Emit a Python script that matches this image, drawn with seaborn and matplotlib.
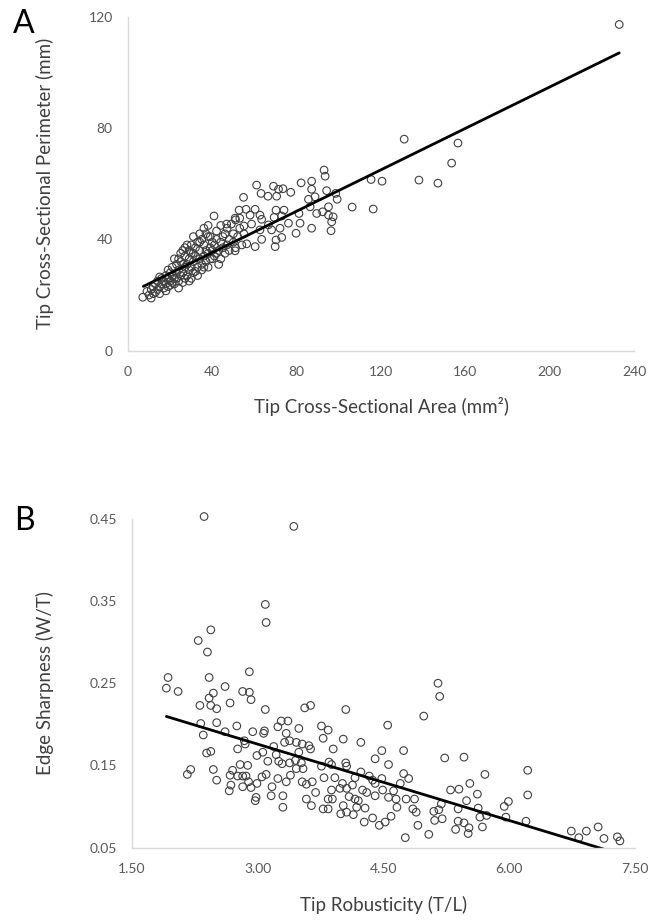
import matplotlib
matplotlib.use("Agg")
import matplotlib.pyplot as plt
import seaborn as sns

# Panel A: tip cross-sectional area (mm2) vs perimeter (mm)
area_a = [
    7, 9, 10, 11, 11, 12, 12, 13, 13, 14, 14, 15, 15, 16, 16, 17, 17, 18, 18, 19, 19, 20, 20, 20,
    21, 21, 22, 22, 23, 23, 24, 24, 25, 25, 26, 26, 27, 27, 28, 28, 29, 29, 30, 30, 30, 22, 25, 28, 26,
    15, 18, 21, 23, 24, 27, 19, 26, 33, 37, 39, 42, 44, 29, 31, 34, 36, 38, 27, 24,
    31, 31, 32, 32, 33, 33, 34, 34, 35, 35, 35, 36, 36, 37, 37, 38, 38, 39, 39, 40, 40, 40, 31, 34, 36, 38, 32, 30, 29,
    41, 41, 42, 42, 43, 43, 44, 44, 45, 45, 46, 46, 47, 47, 48, 48, 49, 50, 50, 51, 51, 52, 53, 53, 54, 55,
    61.0, 69.0, 63.1, 66.4, 70.5, 71.4, 73.5, 77.2, 82.1, 87.1, 87.1, 94.2, 98.5, 99.2, 54.8, 52.7,
    56.0, 60.3, 57.9, 62.6, 63.4, 50.8, 46.8, 55.0, 70.2, 74.0, 69.3, 72.9, 85.6, 88.7, 86.4, 89.5,
    95.1, 95.1, 97.3, 96.6, 92.3, 81.1, 76.1, 81.6, 72.1, 68.1, 79.7, 87.1, 96.3, 62.6, 58.6, 66.6,
    72.9, 70.2, 63.4, 60.3, 56.3, 69.8, 50.8, 40.8,
    93.0, 93.5, 115.3, 120.5, 106.3, 116.3, 131, 138, 147, 153.5, 156.5, 233,
]
perim_a = [
    19.2, 21.3, 20, 18.9, 22, 23, 20.5, 24, 21, 22, 25, 23, 20.5, 24, 26, 22.5, 25, 24, 27, 23, 26, 25, 28, 23.5,
    27, 30, 24, 26, 28, 31, 25, 29, 27, 32, 28, 24.5, 30, 34, 27, 31, 29, 33, 26, 30, 35, 33, 35, 38, 36,
    26.5, 21.5, 24.5, 26, 33, 26, 29, 31, 27, 36, 33, 35, 33, 25, 35, 39, 30, 41, 37, 22.5,
    28, 32, 34, 37, 30, 39, 33, 36, 29, 31, 40, 34, 38, 32, 42, 35, 30, 37, 41, 33, 36, 39, 41, 42, 44, 45, 28.5, 38, 36,
    34, 38, 40, 43, 36, 31, 39, 45, 37, 41, 35, 42, 38, 44, 40, 36, 45.5, 39, 42, 37, 47, 41, 44, 47.6, 38, 42,
    59.5, 59.1, 56.5, 55.5, 55.5, 58, 58.2, 56.9, 60.3, 60.9, 58, 57.5, 56.5, 54.4, 55.1, 50.5,
    50.8, 50.8, 48.7, 48.7, 47.2, 47.6, 45.5, 44.8, 50.5, 50.5, 47.9, 48.4, 54.4, 55.3, 51.7, 49.3,
    51.7, 48.7, 48.1, 46.3, 49.9, 49.3, 45.8, 45.8, 44, 43.4, 42.2, 44, 43.1, 43.4, 45.5, 45.2,
    40.7, 39.8, 40, 37.4, 38.4, 37.4, 35.9, 48.4,
    64.9, 62.7, 61.5, 60.9, 51.6, 50.9, 76, 61.3, 60.2, 67.4, 74.6, 117.2,
]
trend_a_x = [7.3, 233]
trend_a_y = [23.1, 107.0]

# Panel B: tip robusticity (T/L) vs edge sharpness (W/T)
robust_b = [
    2.36, 3.43, 3.09, 3.10, 2.44, 2.29, 2.40, 2.90, 1.93, 2.42,
    1.91, 2.05, 2.61, 2.47, 2.42, 2.44, 2.51, 2.31, 2.67, 2.82,
    2.90, 2.92, 3.09, 3.56, 3.63, 2.32, 2.35, 2.51, 2.61, 2.75,
    2.94, 3.07, 3.08, 2.84, 2.85, 2.76, 2.39, 2.44, 2.16, 2.20,
    2.47, 2.51, 2.67, 2.70, 2.79, 2.88, 2.76, 2.82, 2.86, 2.68,
    2.66, 2.82, 2.89, 2.99, 2.92, 2.98, 2.97, 3.10, 3.05, 2.99,
    3.06, 3.12, 3.19, 3.24, 3.28, 3.36, 3.34, 3.32, 3.38, 3.49,
    3.22, 3.25, 3.29, 3.38, 3.45, 3.39, 3.34, 3.24, 3.17, 3.16,
    3.30, 3.30, 3.46, 3.53, 3.61, 3.63, 3.49, 3.52, 3.54, 3.46,
    3.53, 3.58, 3.65, 3.69, 3.58, 3.64,
    4.05, 4.55, 3.76, 3.84, 3.78, 4.02, 4.23, 3.90, 4.48, 4.74,
    4.40, 4.56, 3.85, 3.88, 4.05, 4.06, 3.76, 3.79, 3.92, 4.01,
    4.13, 4.23, 4.16, 4.33, 4.37, 4.40, 4.48, 4.25, 4.30, 4.06,
    3.98, 3.88, 3.89, 3.84, 4.09, 4.16, 4.20, 4.40, 4.49, 4.56,
    4.65, 4.62, 4.70, 4.74, 4.80, 4.77, 4.87, 4.85, 4.89, 4.66,
    4.59, 4.52, 4.45, 4.37, 4.27, 4.28, 4.18, 4.14, 4.06, 3.99,
    4.02, 3.84, 3.78, 4.76, 4.91,
    5.15, 5.17, 4.98, 5.23, 5.46, 5.71, 6.22, 6.22, 6.20, 5.99,
    5.94, 5.96, 5.62, 5.53, 5.49, 5.63, 5.65, 5.73, 5.68, 5.52,
    5.51, 5.46, 5.39, 5.36, 5.40, 5.30, 5.39, 5.20, 5.19, 5.16,
    5.10, 5.11, 5.04, 6.74, 6.83, 6.92, 7.06, 7.13, 7.29, 7.32,
]
sharp_b = [
    0.453, 0.441, 0.346, 0.324, 0.315, 0.302, 0.288, 0.264, 0.257, 0.257,
    0.244, 0.240, 0.246, 0.238, 0.232, 0.223, 0.219, 0.223, 0.226, 0.240,
    0.239, 0.230, 0.218, 0.220, 0.223, 0.201, 0.187, 0.202, 0.191, 0.198,
    0.191, 0.189, 0.192, 0.180, 0.176, 0.170, 0.165, 0.167, 0.139, 0.145,
    0.145, 0.132, 0.138, 0.144, 0.151, 0.150, 0.137, 0.137, 0.137, 0.126,
    0.119, 0.124, 0.130, 0.128, 0.123, 0.111, 0.107, 0.139, 0.136, 0.162,
    0.166, 0.155, 0.173, 0.197, 0.204, 0.204, 0.189, 0.178, 0.180, 0.195,
    0.163, 0.155, 0.152, 0.153, 0.156, 0.138, 0.130, 0.134, 0.124, 0.113,
    0.113, 0.099, 0.178, 0.176, 0.174, 0.170, 0.166, 0.153, 0.146, 0.146,
    0.130, 0.127, 0.130, 0.117, 0.109, 0.101,
    0.218, 0.199, 0.198, 0.193, 0.183, 0.182, 0.178, 0.170, 0.168, 0.168,
    0.158, 0.151, 0.154, 0.151, 0.153, 0.149, 0.149, 0.135, 0.135, 0.128,
    0.126, 0.142, 0.135, 0.137, 0.132, 0.128, 0.134, 0.120, 0.117, 0.122,
    0.122, 0.120, 0.109, 0.109, 0.112, 0.109, 0.107, 0.113, 0.120, 0.111,
    0.109, 0.119, 0.128, 0.140, 0.134, 0.109, 0.109, 0.097, 0.093, 0.099,
    0.088, 0.081, 0.077, 0.086, 0.081, 0.098, 0.099, 0.090, 0.093, 0.091,
    0.101, 0.097, 0.097, 0.062, 0.077,
    0.250, 0.234, 0.210, 0.159, 0.160, 0.139, 0.144, 0.114, 0.082, 0.106,
    0.100, 0.087, 0.115, 0.128, 0.107, 0.098, 0.087, 0.089, 0.075, 0.074,
    0.067, 0.080, 0.082, 0.072, 0.121, 0.120, 0.097, 0.085, 0.103, 0.096,
    0.094, 0.083, 0.066, 0.070, 0.062, 0.070, 0.075, 0.061, 0.063, 0.058,
]
trend_b_x = [1.91, 7.32]
trend_b_y = [0.2096, 0.042]

a_xticks = [0, 40, 80, 120, 160, 200, 240]
a_yticks = [0, 40, 80, 120]
b_xticks = [1.5, 3.0, 4.5, 6.0, 7.5]
b_yticks = [0.05, 0.15, 0.25, 0.35, 0.45]

sns.set_style("white")
plt.rcParams['font.family'] = ['Lato', 'DejaVu Sans']

W, H = 667, 922
fig = plt.figure(figsize=(W / 100, H / 100), dpi=100)

title_col = '#404040'
tick_col = '#595959'
spine_col = '#d9d9d9'
edge_col = '#404040'


def style_axes(ax):
    for side in ['top', 'right']:
        ax.spines[side].set_visible(False)
    for side in ['left', 'bottom']:
        ax.spines[side].set_color(spine_col)
        ax.spines[side].set_linewidth(1.0)
    ax.tick_params(axis='both', length=0, labelsize=10, colors=tick_col)
    ax.tick_params(axis='x', pad=11)
    ax.tick_params(axis='y', pad=11)


def set_titles(ax, xtext, ytext, xlab_y, ylab_x):
    ax.set_xlabel(xtext, fontsize=13.5, color=title_col)
    ax.set_ylabel(ytext, fontsize=13.5, color=title_col)
    ax.xaxis.label.set_verticalalignment('center')
    ax.yaxis.label.set_verticalalignment('center')
    ax.xaxis.set_label_coords(0.5, xlab_y)
    ax.yaxis.set_label_coords(ylab_x, 0.5)


# panel A
ax1 = fig.add_axes([128 / W, 1 - 350.7 / H, 506 / W, 334 / H])
sns.scatterplot(x=area_a, y=perim_a, ax=ax1, s=30, facecolor='none',
                edgecolor=edge_col, linewidth=0.8, clip_on=False)
sns.lineplot(x=trend_a_x, y=trend_a_y, ax=ax1, color='black', linewidth=2)
ax1.set_xlim(0, 240)
ax1.set_ylim(0, 120)
ax1.set_xticks(a_xticks)
ax1.set_yticks(a_yticks)
style_axes(ax1)
set_titles(ax1, 'Tip Cross-Sectional Area (mm²)', 'Tip Cross-Sectional Perimeter (mm)',
           -0.1656, -0.164)

# panel B
ax2 = fig.add_axes([132 / W, 1 - 847.5 / H, 503 / W, 328.5 / H])
sns.scatterplot(x=robust_b, y=sharp_b, ax=ax2, s=30, facecolor='none',
                edgecolor=edge_col, linewidth=0.8, clip_on=False)
sns.lineplot(x=trend_b_x, y=trend_b_y, ax=ax2, color='black', linewidth=2)
ax2.set_xlim(1.5, 7.5)
ax2.set_ylim(0.05, 0.45)
ax2.set_xticks(b_xticks)
ax2.set_yticks(b_yticks)
ax2.set_xticklabels([f'{v:.2f}' for v in b_xticks])
ax2.set_yticklabels([f'{v:.2f}' for v in b_yticks])
style_axes(ax2)
set_titles(ax2, 'Tip Robusticity (T/L)', 'Edge Sharpness (W/T)', -0.175, -0.173)

fig.text(24 / W, 1 - 24 / H, 'A', fontsize=23, ha='center', va='center', color='black')
fig.text(24 / W, 1 - 521 / H, 'B', fontsize=23, ha='center', va='center', color='black')

fig.savefig('out.png', dpi=100)
